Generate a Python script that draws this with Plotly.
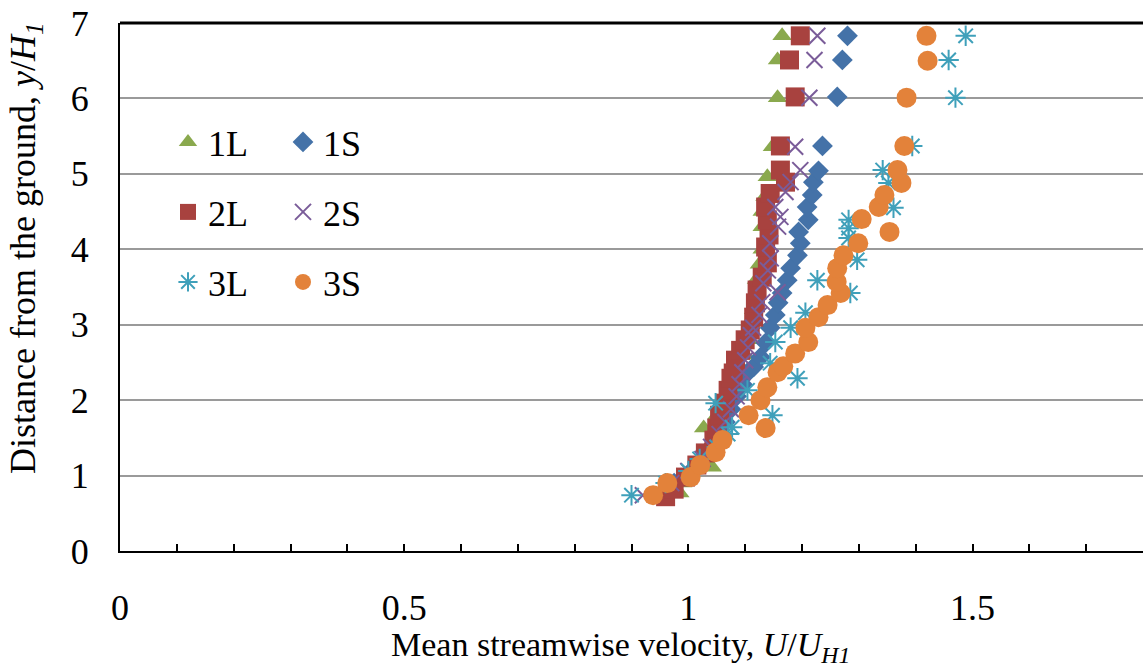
import plotly.graph_objects as go

# ---- data (U/UH1 , y/H1) ----
y_1L = [0.77, 0.90, 1.11, 1.30, 1.47, 1.63, 1.80, 2.00, 2.20, 2.40, 2.60, 2.80, 3.00, 3.20, 3.40, 3.60, 3.80, 4.00, 4.30, 4.50, 4.70, 4.96, 5.36, 6.01, 6.51, 6.83]
x_1L = [0.985, 0.99, 1.042, 1.04, 1.05, 1.027, 1.05, 1.062, 1.08, 1.09, 1.10, 1.105, 1.11, 1.115, 1.12, 1.12, 1.125, 1.13, 1.13, 1.13, 1.135, 1.139, 1.148, 1.157, 1.157, 1.165]

y_1S = [0.74, 0.90, 1.06, 1.22, 1.38, 1.55, 1.71, 1.88, 2.05, 2.21, 2.37, 2.44, 2.57, 2.76, 2.96, 3.13, 3.29, 3.42, 3.59, 3.75, 3.92, 4.08, 4.23, 4.39, 4.56, 4.72, 4.89, 5.04, 5.37, 6.02, 6.51, 6.83]
x_1S = [0.95, 0.975, 1.005, 1.025, 1.04, 1.055, 1.065, 1.075, 1.085, 1.095, 1.105, 1.115, 1.127, 1.136, 1.144, 1.153, 1.158, 1.165, 1.174, 1.18, 1.192, 1.197, 1.194, 1.211, 1.209, 1.218, 1.220, 1.229, 1.236, 1.262, 1.271, 1.280]

y_2L = [0.72, 0.82, 0.98, 1.14, 1.30, 1.47, 1.63, 1.80, 1.96, 2.13, 2.29, 2.36, 2.53, 2.66, 2.80, 2.93, 3.10, 3.29, 3.46, 3.63, 3.82, 4.03, 4.19, 4.39, 4.56, 4.74, 4.89, 5.05, 5.37, 6.02, 6.51, 6.83]
x_2L = [0.96, 0.975, 0.995, 1.015, 1.03, 1.045, 1.05, 1.055, 1.065, 1.07, 1.075, 1.079, 1.083, 1.092, 1.10, 1.109, 1.115, 1.118, 1.121, 1.130, 1.139, 1.136, 1.142, 1.139, 1.136, 1.144, 1.171, 1.162, 1.162, 1.188, 1.178, 1.197]

y_2S = [0.74, 0.90, 1.06, 1.22, 1.38, 1.55, 1.71, 1.88, 2.05, 2.21, 2.37, 2.53, 2.70, 2.86, 2.96, 3.13, 3.30, 3.43, 3.55, 3.72, 3.88, 4.08, 4.30, 4.43, 4.56, 4.76, 4.89, 5.05, 5.36, 6.01, 6.51, 6.83]
x_2S = [0.92, 0.97, 1.0, 1.025, 1.04, 1.055, 1.065, 1.075, 1.085, 1.09, 1.095, 1.10, 1.105, 1.11, 1.114, 1.125, 1.130, 1.157, 1.132, 1.14, 1.145, 1.144, 1.158, 1.162, 1.153, 1.171, 1.18, 1.197, 1.188, 1.213, 1.222, 1.227]

y_3L = [0.74, 0.90, 1.06, 1.22, 1.38, 1.55, 1.64, 1.80, 1.96, 2.13, 2.29, 2.49, 2.77, 2.96, 3.16, 3.42, 3.59, 3.86, 4.15, 4.28, 4.39, 4.55, 4.88, 5.05, 5.37, 6.01, 6.51, 6.83]
x_3L = [0.90, 0.96, 1.00, 1.02, 1.05, 1.07, 1.077, 1.148, 1.048, 1.104, 1.192, 1.144, 1.153, 1.18, 1.206, 1.285, 1.227, 1.297, 1.282, 1.282, 1.282, 1.361, 1.352, 1.342, 1.394, 1.470, 1.458, 1.488]

y_3S = [0.74, 0.90, 0.98, 1.14, 1.31, 1.47, 1.63, 1.80, 2.00, 2.17, 2.37, 2.45, 2.62, 2.77, 2.96, 3.10, 3.26, 3.42, 3.57, 3.75, 3.92, 4.08, 4.23, 4.40, 4.56, 4.72, 4.88, 5.05, 5.37, 6.01, 6.50, 6.83]
x_3S = [0.938, 0.963, 1.004, 1.021, 1.048, 1.060, 1.136, 1.106, 1.127, 1.139, 1.157, 1.167, 1.188, 1.211, 1.206, 1.229, 1.245, 1.268, 1.261, 1.262, 1.273, 1.299, 1.354, 1.305, 1.335, 1.345, 1.375, 1.368, 1.380, 1.384, 1.421, 1.419]

x_ticks = [0, 0.5, 1, 1.5]
x_tick_labels = ["0", "0.5", "1", "1.5"]
y_ticks = [0, 1, 2, 3, 4, 5, 6, 7]

FONT = "Liberation Serif"

series = [
    ("1L", x_1L, y_1L, dict(symbol="triangle-up", size=17, color="#8AA94E", line=dict(width=0)), "legend"),
    ("1S", x_1S, y_1S, dict(symbol="diamond", size=16, color="#4472A8", line=dict(width=0)), "legend"),
    ("2L", x_2L, y_2L, dict(symbol="square", size=19, color="#A8423F", line=dict(width=0)), "legend2"),
    ("2S", x_2S, y_2S, dict(symbol="x-thin-open", size=16, color="#7A5C99", line=dict(width=2, color="#7A5C99")), "legend2"),
    ("3L", x_3L, y_3L, dict(symbol="asterisk-open", size=17, color="#3FA0BA", line=dict(width=2, color="#3FA0BA")), "legend3"),
    ("3S", x_3S, y_3S, dict(symbol="circle", size=20, color="#E3823A", line=dict(width=0)), "legend3"),
]

fig = go.Figure()
for name, xs, ys, mk, lg in series:
    fig.add_trace(go.Scatter(x=xs, y=ys, mode="markers", name=name, marker=mk, legend=lg))

W, H = 1143, 667
PT, PB, PL, PR = 23, 551, 120, 1143   # plot area in screen pixels
def py(p):  # screen row -> paper y
    return (PB - p) / (PB - PT)
def px(p):  # screen col -> paper x
    return (p - PL) / (PR - PL)

leg_common = dict(orientation="h", font=dict(family=FONT, size=36, color="black"),
                  bgcolor="rgba(0,0,0,0)", borderwidth=0, entrywidth=70, entrywidthmode="pixels",
                  xanchor="left", yanchor="middle", itemwidth=30, traceorder="normal")
fig.update_layout(
    width=W, height=H,
    margin=dict(l=PL, r=W - PR, t=PT, b=H - PB, autoexpand=False),
    paper_bgcolor="white", plot_bgcolor="white",
    font=dict(family=FONT, color="black"),
    showlegend=True,
    legend=dict(leg_common, x=px(168), y=py(142)),
    legend2=dict(leg_common, x=px(168), y=py(212)),
    legend3=dict(leg_common, x=px(168), y=py(282)),
    xaxis=dict(range=[0, 1.8], tickvals=x_ticks, ticktext=x_tick_labels, automargin=False,
               showgrid=False, zeroline=False, showline=True, linecolor="black", linewidth=2,
               ticks="inside", ticklen=7, tickcolor="black", tickwidth=1.5,
               minor=dict(dtick=0.1, tick0=0, ticks="inside", ticklen=7, tickcolor="black", tickwidth=1.5),
               tickfont=dict(family=FONT, size=36), ticklabelstandoff=24),
    yaxis=dict(range=[0, 7], tickvals=y_ticks, showgrid=True, gridcolor="#9A9A9A", gridwidth=2,
               automargin=False, zeroline=False, showline=True, linecolor="black", linewidth=2,
               ticks="", tickfont=dict(family=FONT, size=36), ticklabelstandoff=22,
               ticklabeloverflow="allow"),
    shapes=[
        dict(type="rect", xref="paper", yref="paper", x0=px(150), x1=px(385),
             y0=py(306), y1=py(116), fillcolor="white", line=dict(width=0), layer="between"),
        dict(type="line", xref="paper", yref="paper", x0=0, x1=1, y0=1, y1=1,
             line=dict(color="black", width=3), layer="above"),
    ],
    annotations=[
        dict(text="Mean streamwise velocity, <i>U</i>/<i>U</i><sub><i>H1</i></sub>",
             xref="paper", yref="paper", x=px(620), y=py(647), xanchor="center", yanchor="middle",
             showarrow=False, font=dict(family=FONT, size=34)),
        dict(text="Distance from the ground, <i>y</i>/<i>H</i><sub><i>1</i></sub>",
             xref="paper", yref="paper", x=px(25), y=py(248), xanchor="center", yanchor="middle",
             textangle=-90, showarrow=False, font=dict(family=FONT, size=36)),
    ],
)
fig.write_html("out.html", config={"displayModeBar": False},
               post_script="document.body.style.margin='0';")
